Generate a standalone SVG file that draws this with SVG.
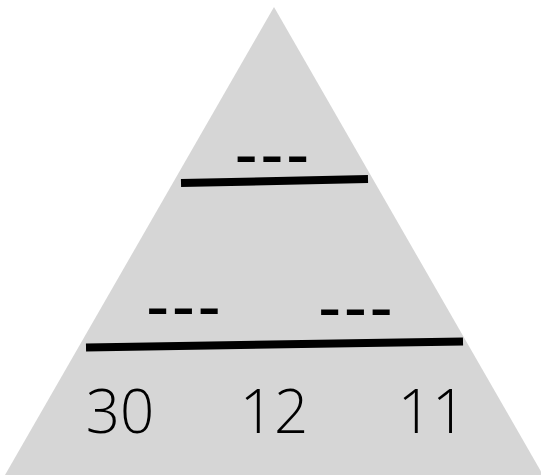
<svg xmlns="http://www.w3.org/2000/svg" width="541" height="475" viewBox="0 0 541 475">
<style>
.dash{font-family:"Liberation Sans",Arial,sans-serif;font-size:70px;letter-spacing:2.4px;fill:#000}
.num{font-family:"Open Sans",Lato,sans-serif;font-weight:300;font-size:60px;fill:#000;text-anchor:middle}
.bar{stroke:#000;stroke-width:8;fill:none}
</style>
<g id="pyramid">
<polygon points="274,7 5,475 543,475" fill="#d6d6d6"/>
</g>
<g id="connectors">
<line class="bar" x1="181" y1="183" x2="368" y2="179"/>
<line class="bar" x1="86" y1="347.5" x2="463" y2="341.5"/>
</g>
<g id="top-node">
<text class="dash" x="234.6" y="178.4">---</text>
</g>
<g id="left-node">
<text class="dash" x="146" y="330.4">---</text>
</g>
<g id="right-node">
<text class="dash" x="318" y="330.7">---</text>
</g>
<g id="numbers">
<text class="num" x="120" y="433">30</text>
<text class="num" x="274" y="433">12</text>
<text class="num" x="432" y="433">11</text>
</g>
</svg>
